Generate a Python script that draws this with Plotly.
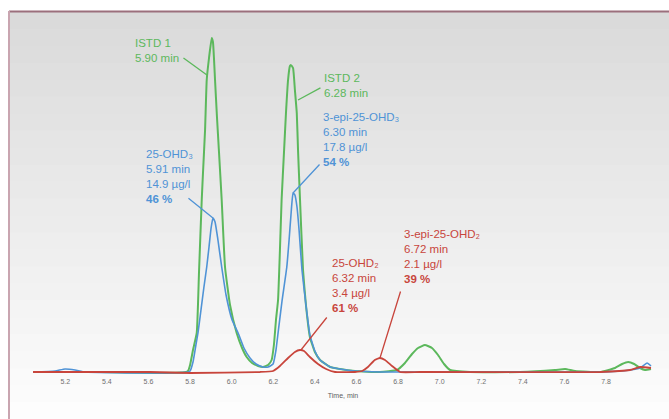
import plotly.graph_objects as go

# ---- data (time in min, relative intensity) ----
green_t = [5.045, 5.175, 5.367, 5.607, 5.780, 5.790, 5.800, 5.814, 5.832, 5.843, 5.856, 5.862, 5.872, 5.880,
           5.891, 5.904, 5.910, 5.920, 5.929, 5.939, 5.952, 5.968, 5.992, 6.024, 6.050, 6.072, 6.098, 6.127,
           6.151, 6.175, 6.192, 6.203, 6.213, 6.223, 6.232, 6.240, 6.252, 6.261, 6.271, 6.280, 6.285, 6.295,
           6.304, 6.313, 6.319, 6.328, 6.343, 6.357, 6.376, 6.400, 6.425, 6.473, 6.521, 6.593, 6.713, 6.795,
           6.833, 6.867, 6.896, 6.929, 6.963, 6.992, 7.021, 7.050, 7.146, 7.386, 7.554, 7.603, 7.651, 7.771,
           7.843, 7.877, 7.906, 7.935, 7.963, 7.987, 8.016]
green_i = [1, 1, 1, 0, 1, 2, 8, 23, 40, 101, 173, 200, 243, 293,
           315, 335, 331, 293, 257, 221, 173, 106, 68, 40, 25, 16, 10, 7,
           6, 8, 13, 28, 53, 73, 123, 173, 223, 260, 293, 307, 308, 305,
           283, 260, 223, 176, 103, 68, 36, 21, 13, 6, 4, 2, 1, 3,
           10, 19, 25, 28, 25, 18, 9, 3, 1, 1, 3, 4, 2, 1,
           5, 9, 11, 9, 5, 3, 4]

blue_t = [5.045, 5.151, 5.199, 5.247, 5.295, 5.607, 5.790, 5.800, 5.814, 5.828, 5.838, 5.853, 5.866, 5.880,
          5.891, 5.901, 5.910, 5.920, 5.934, 5.952, 5.973, 6.002, 6.031, 6.059, 6.088, 6.117, 6.151, 6.175,
          6.199, 6.213, 6.223, 6.242, 6.265, 6.276, 6.285, 6.295, 6.304, 6.314, 6.324, 6.338, 6.357, 6.376,
          6.400, 6.425, 6.473, 6.521, 6.593, 6.713, 7.290, 7.771, 7.915, 7.963, 7.997, 8.016]
blue_i = [1, 2, 4, 3, 1, 0, 1, 2, 11, 28, 40, 64, 85, 106,
          126, 145, 155, 151, 133, 106, 78, 53, 40, 25, 15, 9, 6, 6,
          9, 23, 40, 72, 106, 133, 158, 180, 178, 166, 143, 103, 68, 38,
          22, 13, 6, 4, 2, 1, 1, 1, 3, 5, 10, 7]

red_t = [5.045, 5.607, 5.800, 6.136, 6.199, 6.232, 6.271, 6.304, 6.328, 6.348, 6.376, 6.415, 6.454, 6.497,
         6.593, 6.627, 6.655, 6.688, 6.713, 6.737, 6.771, 6.810, 6.905, 7.771, 7.915, 7.963, 8.016]
red_i = [1, 1, 0, 1, 2, 7, 15, 21, 23, 22, 16, 9, 4, 1,
         1, 2, 6, 13, 15, 13, 7, 1, 1, 1, 3, 6, 5]

tick_vals = [5.2, 5.4, 5.6, 5.8, 6.0, 6.2, 6.4, 6.6, 6.8, 7.0, 7.2, 7.4, 7.6, 7.8]
tick_text = ["5.2", "5.4", "5.6", "5.8", "6.0", "6.2", "6.4", "6.6", "6.8", "7.0", "7.2", "7.4", "7.6", "7.8"]

GREEN = "#5cb85c"
BLUE = "#4f93d6"
RED = "#c8453c"

fig = go.Figure()
for t, i, c, w in [(green_t, green_i, GREEN, 2.0), (blue_t, blue_i, BLUE, 1.6), (red_t, red_i, RED, 1.8)]:
    fig.add_trace(go.Scatter(x=t, y=i, mode="lines", line=dict(color=c, width=w, shape="spline", smoothing=0.4),
                             hoverinfo="skip", showlegend=False))

# ---- layout geometry ----
L, T, W, H = 32, 20, 622, 356
FW, FH = 669, 419

def px(x):
    return (x - L) / W

def py(y):
    return (T + H - y) / H

shapes = []
# gradient background (style only)
n = 24
top, bot = 12, 419
c0, c1 = 218, 253
for k in range(n):
    y0 = top + (bot - top) * k / n
    y1 = top + (bot - top) * (k + 1) / n + 1
    g = round(c0 + (c1 - c0) * (k / (n - 1)))
    shapes.append(dict(type="rect", xref="paper", yref="paper", x0=px(9), x1=px(FW + 2), y0=py(y1), y1=py(y0),
                       fillcolor=f"rgb({g},{g},{g})", line=dict(width=0), layer="below"))
# frame borders
shapes.append(dict(type="line", xref="paper", yref="paper", x0=px(9), x1=px(FW + 2), y0=py(11.5), y1=py(11.5),
                   line=dict(color="#9b6f7c", width=2), layer="below"))
shapes.append(dict(type="line", xref="paper", yref="paper", x0=px(9), x1=px(9), y0=py(11), y1=py(FH + 2),
                   line=dict(color="#c9a5b0", width=2), layer="below"))

FONT = "Liberation Sans"
FS = 11.5

labels = [
    (5.525, 338, "ISTD 1<br>5.90 min", GREEN),
    (6.434, 303, "ISTD 2<br>6.28 min", GREEN),
    (6.429, 264, "3-epi-25-OHD₃<br>6.30 min<br>17.8 µg/l<br><b>54 %</b>", BLUE),
    (5.579, 227, "25-OHD₃<br>5.91 min<br>14.9 µg/l<br><b>46 %</b>", BLUE),
    (6.472, 118, "25-OHD₂<br>6.32 min<br>3.4 µg/l<br><b>61 %</b>", RED),
    (6.819, 147, "3-epi-25-OHD₂<br>6.72 min<br>2.1 µg/l<br><b>39 %</b>", RED),
]
leaders = [
    (5.761, 316, 5.881, 298, GREEN),
    (6.434, 286, 6.319, 273, GREEN),
    (6.429, 210, 6.295, 180, BLUE),
    (5.785, 176, 5.910, 155, BLUE),
    (6.463, 57, 6.333, 23, RED),
    (6.814, 83, 6.713, 15, RED),
]

annotations = []
for x, y, txt, c in labels:
    annotations.append(dict(x=x, y=y, xref="x", yref="y", text=txt, showarrow=False, xanchor="left",
                            yanchor="top", align="left", font=dict(family=FONT, size=FS, color=c)))
for x0, y0, x1, y1, c in leaders:
    annotations.append(dict(x=x1, y=y1, xref="x", yref="y", ax=x0, ay=y0, axref="x", ayref="y", text="",
                            showarrow=True, arrowhead=0, arrowwidth=1.3, arrowcolor=c, standoff=0, startstandoff=0))

fig.update_layout(
    width=FW, height=FH,
    margin=dict(l=L, r=FW - L - W, t=T, b=FH - T - H, pad=0),
    paper_bgcolor="white", plot_bgcolor="rgba(0,0,0,0)",
    shapes=shapes, annotations=annotations,
    xaxis=dict(range=[5.04, 5.04 + W / 208], tickvals=tick_vals, ticktext=tick_text, showgrid=False,
               zeroline=False, showline=False, ticks="", tickfont=dict(family=FONT, size=7, color="#707070"),
               title=dict(text="Time, min", font=dict(family=FONT, size=7, color="#606060"), standoff=9)),
    yaxis=dict(range=[-3, H - 3], visible=False, showgrid=False, zeroline=False),
)

fig.write_html("out.html", config={"displayModeBar": False},
               post_script="document.body.style.margin='0px';document.body.style.overflow='hidden';")
